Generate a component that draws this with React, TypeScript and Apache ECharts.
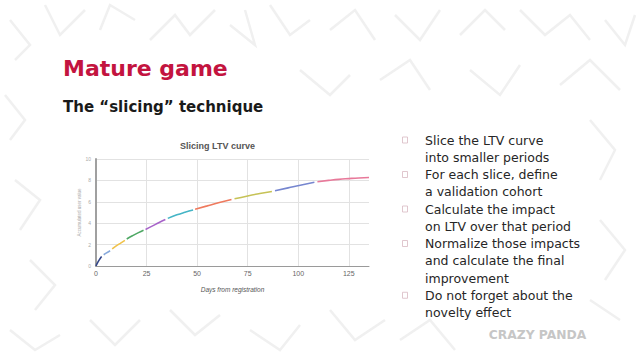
import React, { useEffect, useRef } from "react";
import * as echarts from "echarts";

// ---- Data ----
const xTicks = [0, 25, 50, 75, 100, 125];
const sliceColors = [
  "#34478a", "#86a8db", "#f0c24a", "#4fa865", "#a763c9",
  "#45b5c6", "#ef7a5e", "#c6c256", "#7686cf", "#e8799a",
];
const slice1 = [[0, 0], [1, 0.38], [2, 0.68], [2.8, 0.88]];
const slice2 = [[3.8, 1.05], [5, 1.2], [7, 1.42]];
const slice3 = [[8, 1.6], [10, 1.88], [12, 2.12], [14.3, 2.4]];
const slice4 = [[15.2, 2.52], [18, 2.82], [21, 3.12], [23.5, 3.35]];
const slice5 = [[24.5, 3.42], [28, 3.75], [31, 4.05], [34.3, 4.35]];
const slice6 = [[35.5, 4.45], [40, 4.78], [44, 5.02], [48, 5.23]];
const slice7 = [[49, 5.3], [55, 5.62], [61, 5.93], [67, 6.22]];
const slice8 = [[68.5, 6.28], [75, 6.55], [81, 6.77], [87, 6.97]];
const slice9 = [[88.5, 7.03], [95, 7.3], [101, 7.55], [108, 7.82]];
const slice10 = [[109.5, 7.88], [115, 8.0], [120, 8.1], [125, 8.17], [130, 8.23], [135, 8.27]];
const slices = [slice1, slice2, slice3, slice4, slice5, slice6, slice7, slice8, slice9, slice10];

const titleText = "Mature game";
const subtitleText = "The \u201cslicing\u201d technique";
const chartTitle = "Slicing LTV curve";
const xName = "Days from registration";
const yName = "Accumulated user value";
const bullets = [
  ["Slice the LTV curve", "into smaller periods"],
  ["For each slice, define", "a validation cohort"],
  ["Calculate the impact", "on LTV over that period"],
  ["Normalize those impacts", "and calculate the final", "improvement"],
  ["Do not forget about the", "novelty effect"],
];
const logoText = "CRAZY PANDA";

const pattern = [
  [[10, 20], [30, 45], [15, 60]],
  [[45, 5], [60, 35], [85, 10]],
  [[100, 30], [110, 5], [135, 20]],
  [[150, 40], [175, 15], [190, 35], [215, 10]],
  [[230, 25], [255, 45], [245, 10]],
  [[270, 5], [290, 35], [310, 20]],
  [[330, 30], [355, 10], [375, 40]],
  [[395, 15], [420, 40], [440, 10]],
  [[460, 35], [485, 10], [505, 30]],
  [[520, 10], [545, 35], [570, 15], [590, 40]],
  [[605, 20], [625, 45], [635, 15]],
  [[5, 95], [25, 120], [10, 140]],
  [[300, 70], [330, 95], [350, 75]],
  [[380, 80], [410, 60], [430, 90]],
  [[470, 70], [500, 95], [520, 65]],
  [[560, 85], [590, 60], [620, 90]],
  [[15, 180], [40, 200], [20, 230]],
  [[30, 260], [55, 285], [35, 310]],
  [[10, 330], [35, 350], [60, 335]],
  [[90, 320], [115, 345], [140, 320]],
  [[170, 310], [195, 335], [220, 315]],
  [[250, 330], [280, 350], [300, 325]],
  [[330, 310], [355, 340], [385, 320]],
  [[400, 340], [430, 320], [455, 350]],
  [[590, 120], [615, 150], [600, 180]],
  [[600, 220], [625, 250], [605, 280]],
  [[590, 300], [620, 320]],
];

export default function App() {
  const ref = useRef<HTMLDivElement>(null);
  useEffect(() => {
    if (!ref.current) return;
    const chart = echarts.init(ref.current, undefined, { renderer: "svg" });

    const graphics: any[] = [];
    pattern.forEach((pts) => {
      graphics.push({
        type: "polyline",
        z: -10,
        shape: { points: pts },
        style: { stroke: "#f0f0f0", lineWidth: 2.5, fill: null },
        silent: true,
      });
    });
    graphics.push({
      type: "rect",
      z: -5,
      shape: { x: 84, y: 132, width: 292, height: 164 },
      style: { fill: "#ffffff" },
      silent: true,
    });
    graphics.push({
      type: "text",
      x: 63,
      y: 68,
      style: {
        text: titleText,
        fontFamily: "DejaVu Sans",
        fontWeight: "bold",
        fontSize: 22,
        fill: "#c3143f",
        textVerticalAlign: "middle",
        verticalAlign: "middle",
      },
    });
    graphics.push({
      type: "text",
      x: 63,
      y: 106.5,
      style: {
        text: subtitleText,
        fontFamily: "DejaVu Sans",
        fontWeight: "bold",
        fontSize: 15,
        fill: "#1a1a1a",
        verticalAlign: "middle",
      },
    });
    graphics.push({
      type: "text",
      x: 217.5,
      y: 146,
      style: {
        text: chartTitle,
        fontFamily: "Liberation Sans",
        fontWeight: "bold",
        fontSize: 9,
        fill: "#555",
        align: "center",
        verticalAlign: "middle",
      },
    });
    let line = 0;
    bullets.forEach((item) => {
      const y0 = 140 + line * 17.25;
      graphics.push({
        type: "rect",
        shape: { x: 402.5, y: y0 - 3, width: 5, height: 6 },
        style: { fill: null, stroke: "#d8b9c1", lineWidth: 0.8 },
      });
      item.forEach((t) => {
        graphics.push({
          type: "text",
          x: 425,
          y: 140 + line * 17.25,
          style: {
            text: t,
            fontFamily: "DejaVu Sans",
            fontSize: 12.5,
            fill: "#262626",
            verticalAlign: "middle",
          },
        });
        line++;
      });
    });
    graphics.push({
      type: "text",
      x: 537.5,
      y: 335,
      style: {
        text: logoText,
        fontFamily: "DejaVu Sans",
        fontWeight: "bold",
        fontSize: 12.3,
        fill: "#c6c6c6",
        align: "center",
        verticalAlign: "middle",
      },
    });

    const gridColor = "#e2e2e2";
    chart.setOption({
      animation: false,
      backgroundColor: "#ffffff",
      grid: { left: 96, right: 269, top: 159, bottom: 93, containLabel: false },
      xAxis: {
        type: "value",
        min: 0,
        max: 135,
        interval: 25,
        name: xName,
        nameLocation: "middle",
        nameGap: 20,
        nameTextStyle: { fontSize: 6.5, fontStyle: "italic", color: "#555", fontFamily: "Liberation Sans" },
        axisLine: { show: true, lineStyle: { color: "#9a9a9a", width: 1 } },
        axisTick: { show: false },
        axisLabel: {
          fontSize: 7,
          color: "#666",
          margin: 4,
          fontFamily: "Liberation Sans",
          formatter: (v: number) => (xTicks.includes(v) ? String(v) : ""),
        },
        splitLine: {
          show: true,
          lineStyle: { color: [gridColor, gridColor, gridColor, gridColor, gridColor, gridColor, "rgba(0,0,0,0)"], width: 1 },
        },
      },
      yAxis: {
        type: "value",
        min: 0,
        max: 10,
        interval: 2,
        name: yName,
        nameLocation: "middle",
        nameRotate: 90,
        nameGap: 13,
        nameTextStyle: { fontSize: 4.5, color: "#aaa", fontFamily: "Liberation Sans" },
        axisLine: { show: true, lineStyle: { color: "#a0a0a0", width: 2 } },
        axisTick: { show: false },
        axisLabel: { fontSize: 5, color: "#aaa", margin: 5, fontFamily: "Liberation Sans" },
        splitLine: { show: true, lineStyle: { color: gridColor, width: 1 } },
      },
      graphic: graphics,
      series: slices.map((d, i) => ({
        type: "line",
        data: d,
        smooth: true,
        showSymbol: false,
        silent: true,
        lineStyle: { color: sliceColors[i], width: 1.6 },
        z: 3,
      })),
    });
    return () => chart.dispose();
  }, []);
  return (
    <div
      ref={ref}
      style={{ position: "absolute", left: 0, top: 0, width: 638, height: 359 }}
    />
  );
}
